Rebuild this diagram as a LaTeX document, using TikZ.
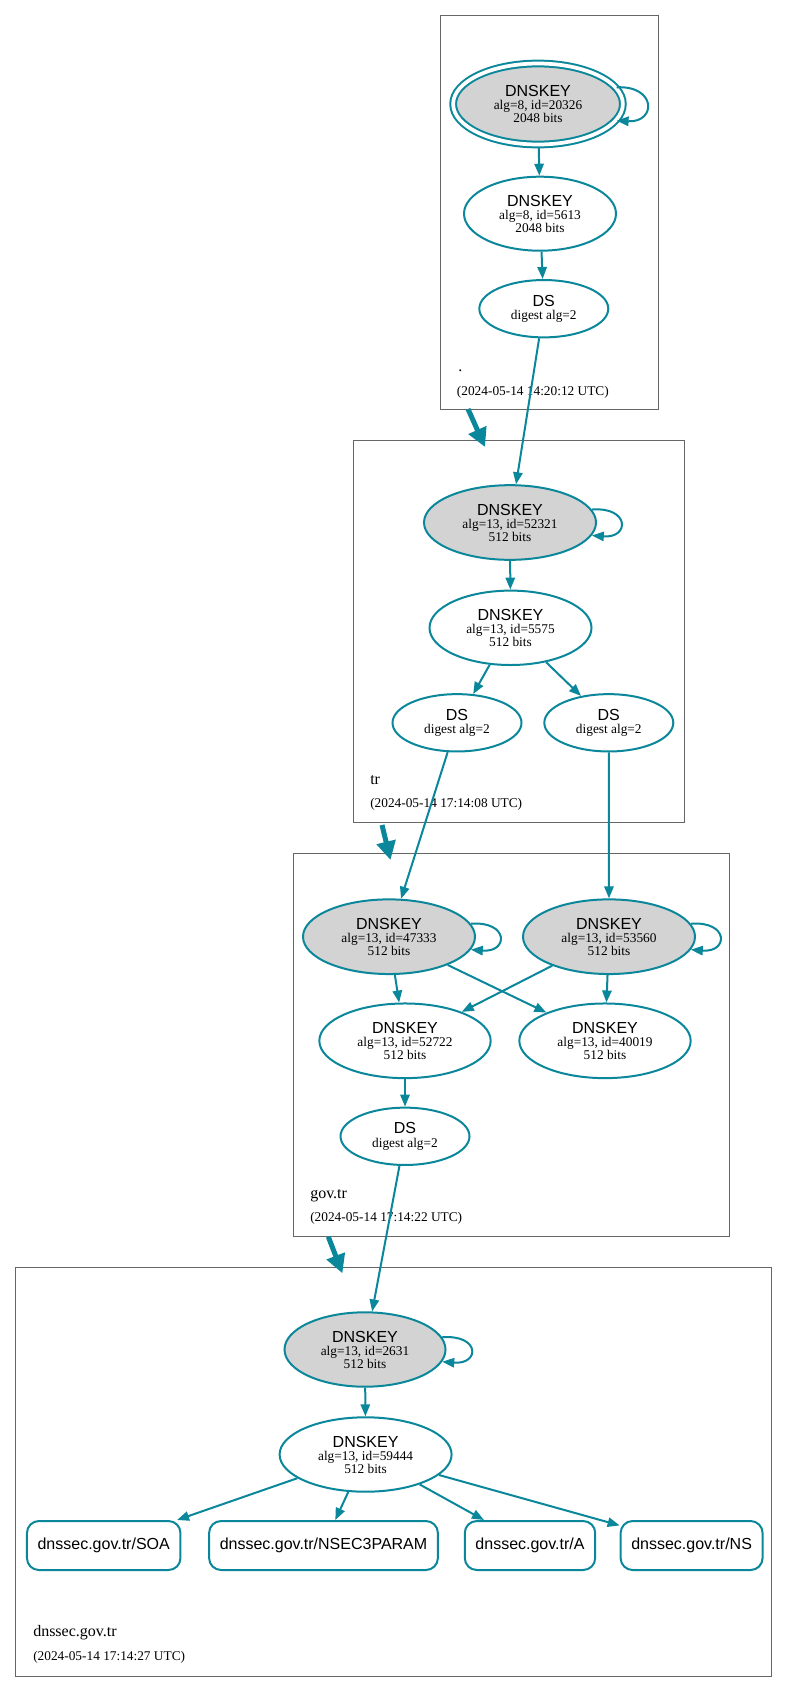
\documentclass[tikz,border=0pt]{standalone}
\usepackage{fontspec}
\setmainfont{Liberation Serif}
\newfontfamily\hv{Liberation Sans}
\usetikzlibrary{shapes.geometric, arrows.meta}

\definecolor{secure}{HTML}{0A879A}
\definecolor{kskfill}{HTML}{D3D3D3}

\newcommand{\keytext}[2]{{\hv\fontsize{12}{9.75}\selectfont DNSKEY}\\#1\\#2 bits}
\newcommand{\dstext}{{\hv\fontsize{12}{10}\selectfont DS}\\digest alg=2}

\tikzset{
	key/.style={ellipse, draw=secure, line width=1.5pt, fill=white, inner sep=0pt, align=center,
		font=\fontsize{10}{9.75}\selectfont, minimum width=129pt, minimum height=56pt},
	ksk/.style={key, fill=kskfill},
	dsnode/.style={key, minimum width=96.75pt, minimum height=43pt, font=\fontsize{10}{10}\selectfont},
	rrset/.style={rectangle, rounded corners=9pt, draw=secure, line width=1.5pt, inner xsep=8pt,
		inner ysep=0pt, minimum height=36.75pt, font=\hv\fontsize{12}{14}\selectfont},
	edge/.style={draw=secure, line width=1.5pt, -{Triangle[length=9pt, width=7pt]}},
	delegation/.style={draw=secure, line width=3.75pt, -{Triangle[length=14pt, width=14pt]}},
	cluster/.style={draw=black!60, line width=0.75pt},
	zonename/.style={anchor=base west, inner sep=0pt, font=\fontsize{12}{14}\selectfont},
	zonedate/.style={anchor=base west, inner sep=0pt, font=\fontsize{10}{12}\selectfont}
}

\begin{document}
\begin{tikzpicture}[x=0.75pt, y=-0.75pt]
	\useasboundingbox (0, 0) rectangle (788, 1692);

	\draw [cluster] (440, 15.7) rectangle (658.7, 409.3);
	\draw [cluster] (353.3, 440) rectangle (684, 822.7);
	\draw [cluster] (293.3, 853.8) rectangle (729.3, 1236.7);
	\draw [cluster] (15.5, 1267.5) rectangle (771, 1676);

	\node [ksk, double=white, double distance=2.8pt, minimum width=127.3pt, minimum height=60.75pt] (rootksk) at (538, 104) {\keytext{alg=8, id=20326}{2048}};
	\node [key, minimum width=114pt, minimum height=55.5pt] (rootzsk) at (540, 213.7) {\keytext{alg=8, id=5613}{2048}};
	\node [dsnode] (rootds) at (543.8, 308.7) {\dstext};
	\node [zonename] (rootname) at (458, 371.7) {.};
	\node [zonedate] (rootdate) at (456.7, 395) {(2024-05-14 14:20:12 UTC)};

	\node [ksk] (trksk) at (510, 522.5) {\keytext{alg=13, id=52321}{512}};
	\node [key, minimum width=121.5pt, minimum height=55.8pt] (trzsk) at (510.5, 627.8) {\keytext{alg=13, id=5575}{512}};
	\node [dsnode] (trdsa) at (457, 722.8) {\dstext};
	\node [dsnode] (trdsb) at (608.8, 722.8) {\dstext};
	\node [zonename] (trname) at (370, 784.3) {tr};
	\node [zonedate] (trdate) at (370, 807.7) {(2024-05-14 17:14:08 UTC)};

	\node [ksk] (govkska) at (389, 936.7) {\keytext{alg=13, id=47333}{512}};
	\node [ksk] (govkskb) at (609, 936.7) {\keytext{alg=13, id=53560}{512}};
	\node [key, minimum width=128.5pt] (govzska) at (405, 1040.8) {\keytext{alg=13, id=52722}{512}};
	\node [key, minimum width=128.5pt] (govzskb) at (605, 1040.8) {\keytext{alg=13, id=40019}{512}};
	\node [dsnode] (govds) at (405, 1136.3) {\dstext};
	\node [zonename] (govname) at (310, 1198.3) {gov.tr};
	\node [zonedate] (govdate) at (310, 1221.7) {(2024-05-14 17:14:22 UTC)};

	\node [ksk, minimum width=120.75pt, minimum height=55.8pt] (dnsksk) at (365, 1349.5) {\keytext{alg=13, id=2631}{512}};
	\node [key, minimum height=55.8pt] (dnszsk) at (365.6, 1454.5) {\keytext{alg=13, id=59444}{512}};
	\node [rrset] (soa) at (103.7, 1545.5) {dnssec.gov.tr/SOA};
	\node [rrset] (nsec) at (323.5, 1545.5) {dnssec.gov.tr/NSEC3PARAM};
	\node [rrset] (arec) at (530, 1545.5) {dnssec.gov.tr/A};
	\node [rrset] (nsrec) at (691.6, 1545.5) {dnssec.gov.tr/NS};
	\node [zonename] (dnsname) at (33, 1636.7) {dnssec.gov.tr};
	\node [zonedate] (dnsdate) at (33, 1660) {(2024-05-14 17:14:27 UTC)};

	\coordinate (rootout) at (468, 409);
	\coordinate (trin) at (485, 447);
	\coordinate (trout) at (382, 825);
	\coordinate (govin) at (390.5, 860);
	\coordinate (govout) at (328.3, 1236.7);
	\coordinate (dnsin) at (342.4, 1273.3);
	\draw [delegation] (rootout) -- (trin);
	\draw [delegation] (trout) -- (govin);
	\draw [delegation] (govout) -- (dnsin);

	\draw [edge] (rootksk.12) .. controls +(40, -2) and +(40, 2) .. (rootksk.-12);
	\foreach \k in {trksk, govkska, govkskb, dnsksk}
		\draw [edge] (\k.9) .. controls +(38, -3) and +(38, 3) .. (\k.-9);

	\draw [edge, shorten <=2pt] (rootksk) -- (rootzsk);
	\draw [edge] (rootzsk) -- (rootds);
	\draw [edge] (rootds) -- (trksk);
	\draw [edge] (trksk) -- (trzsk);
	\draw [edge] (trzsk) -- (trdsa);
	\draw [edge] (trzsk) -- (trdsb);
	\draw [edge] (trdsa) -- (govkska);
	\draw [edge] (trdsb) -- (govkskb);
	\draw [edge] (govkska) -- (govzska);
	\draw [edge] (govkska) -- (govzskb);
	\draw [edge] (govkskb) -- (govzska);
	\draw [edge] (govkskb) -- (govzskb);
	\draw [edge] (govzska) -- (govds);
	\draw [edge] (govds) -- (dnsksk);
	\draw [edge] (dnsksk) -- (dnszsk);
	\draw [edge] (dnszsk) -- (soa);
	\draw [edge] (dnszsk) -- (nsec);
	\draw [edge] (dnszsk) -- (arec);
	\draw [edge] (dnszsk) -- (nsrec);
\end{tikzpicture}
\end{document}
